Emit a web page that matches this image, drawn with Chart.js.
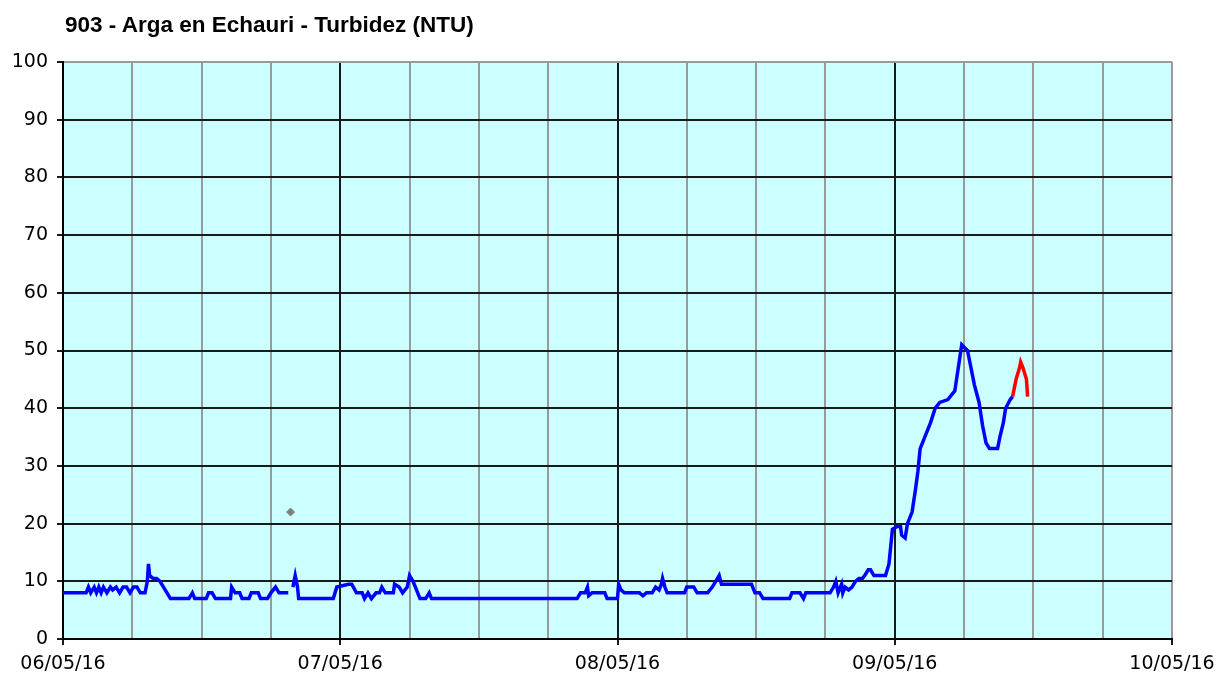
<!DOCTYPE html>
<html>
<head>
<meta charset="utf-8">
<script src="https://cdn.jsdelivr.net/npm/chart.js@4"></script>
<style>
  body { margin: 0; background: #fff; }
  #wrap { position: relative; width: 1219px; height: 675px; }
  #title {
    position: absolute; left: 65px; top: 14px;
    font: bold 22.5px "Liberation Sans", Arial, sans-serif;
    line-height: 1; color: #000; white-space: nowrap;
  }
</style>
</head>
<body>
<div id="wrap">
  <canvas id="chart" width="1219" height="675"></canvas>
  <div id="title">903 - Arga en Echauri - Turbidez (NTU)</div>
</div>
<script>
// x = hours since 06/05/16 00:00
const dayLabels = ['06/05/16', '07/05/16', '08/05/16', '09/05/16', '10/05/16'];

const hoursBlue = [
  0, 2.0, 2.2, 2.4, 2.7, 2.9, 3.1, 3.3, 3.5, 3.8,
  4.1, 4.3, 4.6, 4.9, 5.2, 5.5, 5.8, 6.1, 6.4, 6.7,
  7.1, 7.3, 7.4, 7.5, 7.8, 8.1, 8.4, 8.7, 9.0, 9.3,
  10.9, 11.2, 11.4, 12.4, 12.6, 12.9, 13.2, 14.5, 14.6, 14.9,
  15.3, 15.5, 16.1, 16.3, 16.9, 17.1, 17.7, 18.0, 18.4, 18.7,
  19.5, 19.7, 19.9, 20.1, 20.3, 20.4, 23.4, 23.7, 24.7, 25.0,
  25.4, 25.9, 26.1, 26.4, 26.7, 27.1, 27.4, 27.6, 27.9, 28.6,
  28.7, 29.1, 29.4, 29.8, 30.0, 30.3, 30.6, 30.9, 31.4, 31.7,
  31.9, 44.5, 44.8, 45.2, 45.4, 45.5, 45.8, 46.9, 47.1, 48.0,
  48.1, 48.3, 48.6, 49.9, 50.2, 50.5, 51.0, 51.3, 51.6, 51.8,
  51.9, 52.1, 52.3, 53.8, 54.0, 54.6, 54.9, 55.8, 56.2, 56.5,
  56.8, 57.0, 59.6, 59.9, 60.3, 60.6, 62.9, 63.1, 63.8, 64.1,
  64.3, 66.4, 66.7, 66.9, 67.1, 67.4, 67.5, 67.7, 68.0, 68.3,
  68.6, 68.9, 69.2, 69.4, 69.7, 69.9, 70.2, 71.2, 71.5, 71.8,
  72.2, 72.5, 72.6, 72.9, 73.1, 73.5, 73.8, 74.0, 74.2, 74.6,
  75.1, 75.5, 75.9, 76.6, 77.2, 77.5, 77.8, 78.3, 78.7, 78.9,
  79.3, 79.6, 79.9, 80.2, 80.9, 81.1, 81.4, 81.6, 82.0, 82.2
];
const turbBlue = [
  8, 8, 9, 8, 9, 8, 9, 8, 9, 8,
  9, 8.5, 9, 8, 9, 9, 8, 9, 9, 8,
  8, 10, 13, 11, 10.5, 10.5, 10, 9, 8, 7,
  7, 8, 7, 7, 8, 8, 7, 7, 9, 8,
  8, 7, 7, 8, 8, 7, 7, 8, 9, 8,
  8, null, 9, 11, 9, 7, 7, 9, 9.5, 9.5,
  8, 8, 7, 8, 7, 8, 8, 9, 8, 8,
  9.5, 9, 8, 9, 11, 10, 8.5, 7, 7, 8,
  7, 7, 8, 8, 9, 7.5, 8, 8, 7, 7,
  9.5, 8.5, 8, 8, 7.5, 8, 8, 9, 8.5, 9.5,
  10.5, 9, 8, 8, 9, 9, 8, 8, 9, 10,
  11, 9.5, 9.5, 8, 8, 7, 7, 8, 8, 7,
  8, 8, 9, 10, 8, 9.5, 8, 9, 8.5, 9,
  10, 10.5, 10.5, 11, 12, 12, 11, 11, 13, 19,
  19.5, 19.5, 18, 17.5, 20, 22, 26, 29, 33, 35,
  37.5, 40, 41, 41.5, 43, 47, 51, 50, 46, 44,
  41, 37, 34, 33, 33, 35, 37.5, 40, 41.5, 42
];

// latest, not yet validated values
const hoursRed = [82.2, 82.5, 82.8, 82.9, 83.1, 83.4, 83.5];
const turbRed = [42, 45, 47, 48, 47, 45, 42];

// discarded reading
const hoursGray = [19.7];
const turbGray = [22];

function toPoints(xs, ys) {
  return xs.map((x, i) => ({x: x, y: ys[i]}));
}

const plotBackground = {
  id: 'plotBackground',
  beforeDraw(chart) {
    const {ctx, chartArea} = chart;
    ctx.save();
    ctx.fillStyle = '#CCFFFF';
    ctx.fillRect(chartArea.left, chartArea.top, chartArea.width, chartArea.height);
    ctx.restore();
  }
};

const tickFont = {family: '"DejaVu Sans", Verdana, sans-serif', size: 19};

new Chart(document.getElementById('chart').getContext('2d'), {
  type: 'line',
  data: {
    datasets: [
      {
        data: toPoints(hoursGray, turbGray),
        showLine: false,
        pointStyle: 'rectRot',
        pointRadius: 4,
        backgroundColor: '#808080',
        borderColor: '#808080'
      },
      {
        data: toPoints(hoursBlue, turbBlue),
        borderColor: '#0000FF',
        borderWidth: 3.5,
        pointRadius: 0,
        tension: 0,
        spanGaps: false
      },
      {
        data: toPoints(hoursRed, turbRed),
        borderColor: '#FF0000',
        borderWidth: 3.5,
        pointRadius: 0,
        tension: 0
      }
    ]
  },
  options: {
    responsive: false,
    animation: false,
    layout: {padding: {top: 62, right: 47, left: 0, bottom: 0}},
    plugins: {
      legend: {display: false},
      tooltip: {enabled: false}
    },
    scales: {
      x: {
        type: 'linear',
        min: 0,
        max: 96,
        afterFit: function(scale) {
          scale.height = 36;
          scale.paddingLeft = 0;
          scale.paddingRight = 0;
        },
        border: {color: '#000', width: 2},
        grid: {
          lineWidth: 2,
          tickLength: 6,
          color: function(ctx) {
            let v = ctx.tick.value;
            return (v % 24 == 0 && v != 96) ? '#1a1a1a' : '#9a9a9a';
          },
          tickColor: function(ctx) {
            return ctx.tick.value % 24 == 0 ? '#1a1a1a' : 'rgba(0,0,0,0)';
          }
        },
        ticks: {
          stepSize: 6,
          autoSkip: false,
          maxRotation: 0,
          padding: 8,
          color: '#000',
          font: tickFont,
          callback: function(value) {
            if (value % 24 == 0) return dayLabels[value / 24];
            return '';
          }
        }
      },
      y: {
        min: 0,
        max: 100,
        afterFit: function(scale) { scale.width = 63; },
        border: {color: '#000', width: 2},
        grid: {
          lineWidth: 2,
          tickLength: 6,
          color: function(ctx) {
            return ctx.tick.value == 100 ? '#9a9a9a' : '#1a1a1a';
          },
          tickColor: '#1a1a1a'
        },
        ticks: {
          stepSize: 10,
          padding: 9,
          color: '#000',
          font: tickFont
        }
      }
    }
  },
  plugins: [plotBackground]
});
</script>
</body>
</html>
